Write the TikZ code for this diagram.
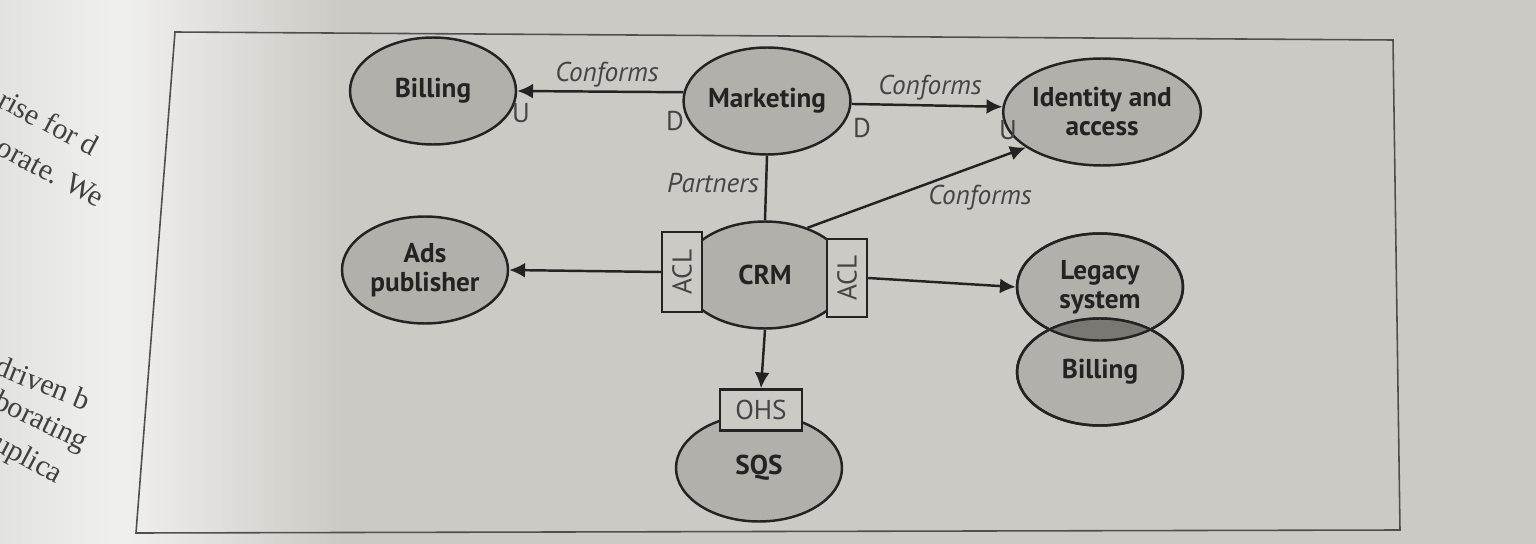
\documentclass[tikz,border=0pt]{standalone}
\usepackage{fontspec}
\setmainfont{PT Sans}
\newfontfamily\marginFont{Liberation Serif}
\usetikzlibrary{shapes.geometric,arrows.meta}
\definecolor{pageGray}{RGB}{204,202,196}
\definecolor{paperLight}{RGB}{240,240,238}
\definecolor{paperEdge}{RGB}{226,226,224}
\definecolor{contextGray}{RGB}{178,176,170}
\definecolor{sharedGray}{RGB}{122,120,114}
\definecolor{inkColor}{RGB}{38,34,34}
\newcommand{\contextNode}[3]{%%
  \node[contextStyle] (#1) at (#2) {#3};
}
\newcommand{\relLabel}[2]{%%
  \node[labelStyle] at (#1) {#2};
}

\begin{document}
\begin{tikzpicture}[%%
  x=0.02cm,y=-0.02cm,%%
  lineStyle/.style={-,line width=1.4pt,inkColor},%%
  arrowStyle/.style={lineStyle,-{Latex[length=9pt,width=8.5pt]}},%%
  contextStyle/.style={draw=inkColor,line width=1.4pt,ellipse,fill=contextGray,
    minimum width=3.32cm,minimum height=2.14cm,inner sep=0pt,align=center,
    font=\fontsize{15.5}{16.5}\selectfont\bfseries,text=inkColor},%%
  labelStyle/.style={font=\fontsize{15.5}{17}\selectfont\itshape,text=inkColor!85},%%
  endStyle/.style={font=\fontsize{15.5}{17}\selectfont,text=inkColor!85},%%
  boxStyle/.style={draw=inkColor,line width=1.4pt,fill=pageGray,inner sep=0pt,
    font=\fontsize{15.5}{17}\selectfont,text=inkColor!85},%%
  marginStyle/.style={font=\marginFont\fontsize{17}{19}\selectfont,text=black!75,anchor=west}%%
]
%%
%%
\pgfmathsetmacro{\rx}{83}
\pgfmathsetmacro{\ry}{53.5}
%%
\useasboundingbox (0,0) rectangle (1536,544);
%% The page.
\fill[pageGray] (0,0) rectangle (1536,544);
\shade[left color=paperEdge,right color=paperLight] (0,0) rectangle (120,544);
\shade[left color=paperLight,right color=pageGray] (120,0) rectangle (340,544);
%% Margin text of the facing page.
\node[marginStyle,rotate=-28] at (-4,94) {rise for d};
\node[marginStyle,rotate=-28] at (-6,142) {orate. We};
\node[marginStyle,rotate=-22] at (-8,362) {driven b};
\node[marginStyle,rotate=-26] at (-10,398) {borating};
\node[marginStyle,rotate=-28] at (-10,440) {uplica};
%% The frame.
\draw[inkColor!80,line width=0.9pt] (175,32) -- (1393,40) -- (1400,530) -- (136,533) -- cycle;
%%
%% The bounded contexts.
\contextNode{billingTop}{433,91}{Billing}
\contextNode{marketing}{767,101}{Marketing}
\contextNode{identity}{1102,112}{Identity and\\access}
\contextNode{ads}{425,270}{Ads\\publisher}
\contextNode{crm}{765,275}{CRM}
\contextNode{sqs}{759,468}{SQS}
\contextNode{legacy}{1100,287}{}
\contextNode{billingShared}{1100,372}{}
%% The shared kernel.  Must be drawn after both.
\begin{scope}
  \clip (legacy) ellipse[x radius=\rx,y radius=\ry];
  \fill[sharedGray] (billingShared) ellipse[x radius=\rx,y radius=\ry];
\end{scope}
\draw[lineStyle] (legacy) ellipse[x radius=\rx,y radius=\ry];
\draw[lineStyle] (billingShared) ellipse[x radius=\rx,y radius=\ry];
\node[contextStyle,draw=none,fill=none] at (legacy) {Legacy\\system};
\node[contextStyle,draw=none,fill=none] at (billingShared) {Billing};
%%
%% The layers in front of CRM and SQS.
\node[boxStyle,minimum width=0.8cm,minimum height=1.6cm] (aclLeft) at (682,272) {\rotatebox{90}{ACL}};
\node[boxStyle,minimum width=0.8cm,minimum height=1.56cm] (aclRight) at (847,278) {\rotatebox{90}{ACL}};
\node[boxStyle,minimum width=1.64cm,minimum height=0.82cm] (ohs) at (761,410) {OHS};
%%
%% The relations.
\draw[arrowStyle] (marketing.174) -- (billingTop.east);
\draw[arrowStyle] (marketing.-2) -- (identity.177);
\draw[lineStyle] (marketing.south) -- (crm.north);
\draw[arrowStyle] (crm.48) -- (identity.205);
\draw[arrowStyle] (aclLeft.west) -- (ads.east);
\draw[arrowStyle] (aclRight.east) -- (legacy.west);
\draw[arrowStyle] (crm.south) -- (ohs.north);
%%
%% Labels on the relations.
\relLabel{607,75}{Conforms}
\relLabel{930,88}{Conforms}
\relLabel{980,198}{Conforms}
\relLabel{713,183}{Partners}
\node[endStyle] at (521,113) {U};
\node[endStyle] at (675,121) {D};
\node[endStyle] at (862,128) {D};
\node[endStyle] at (1008,130) {U};
\end{tikzpicture}
\end{document}
